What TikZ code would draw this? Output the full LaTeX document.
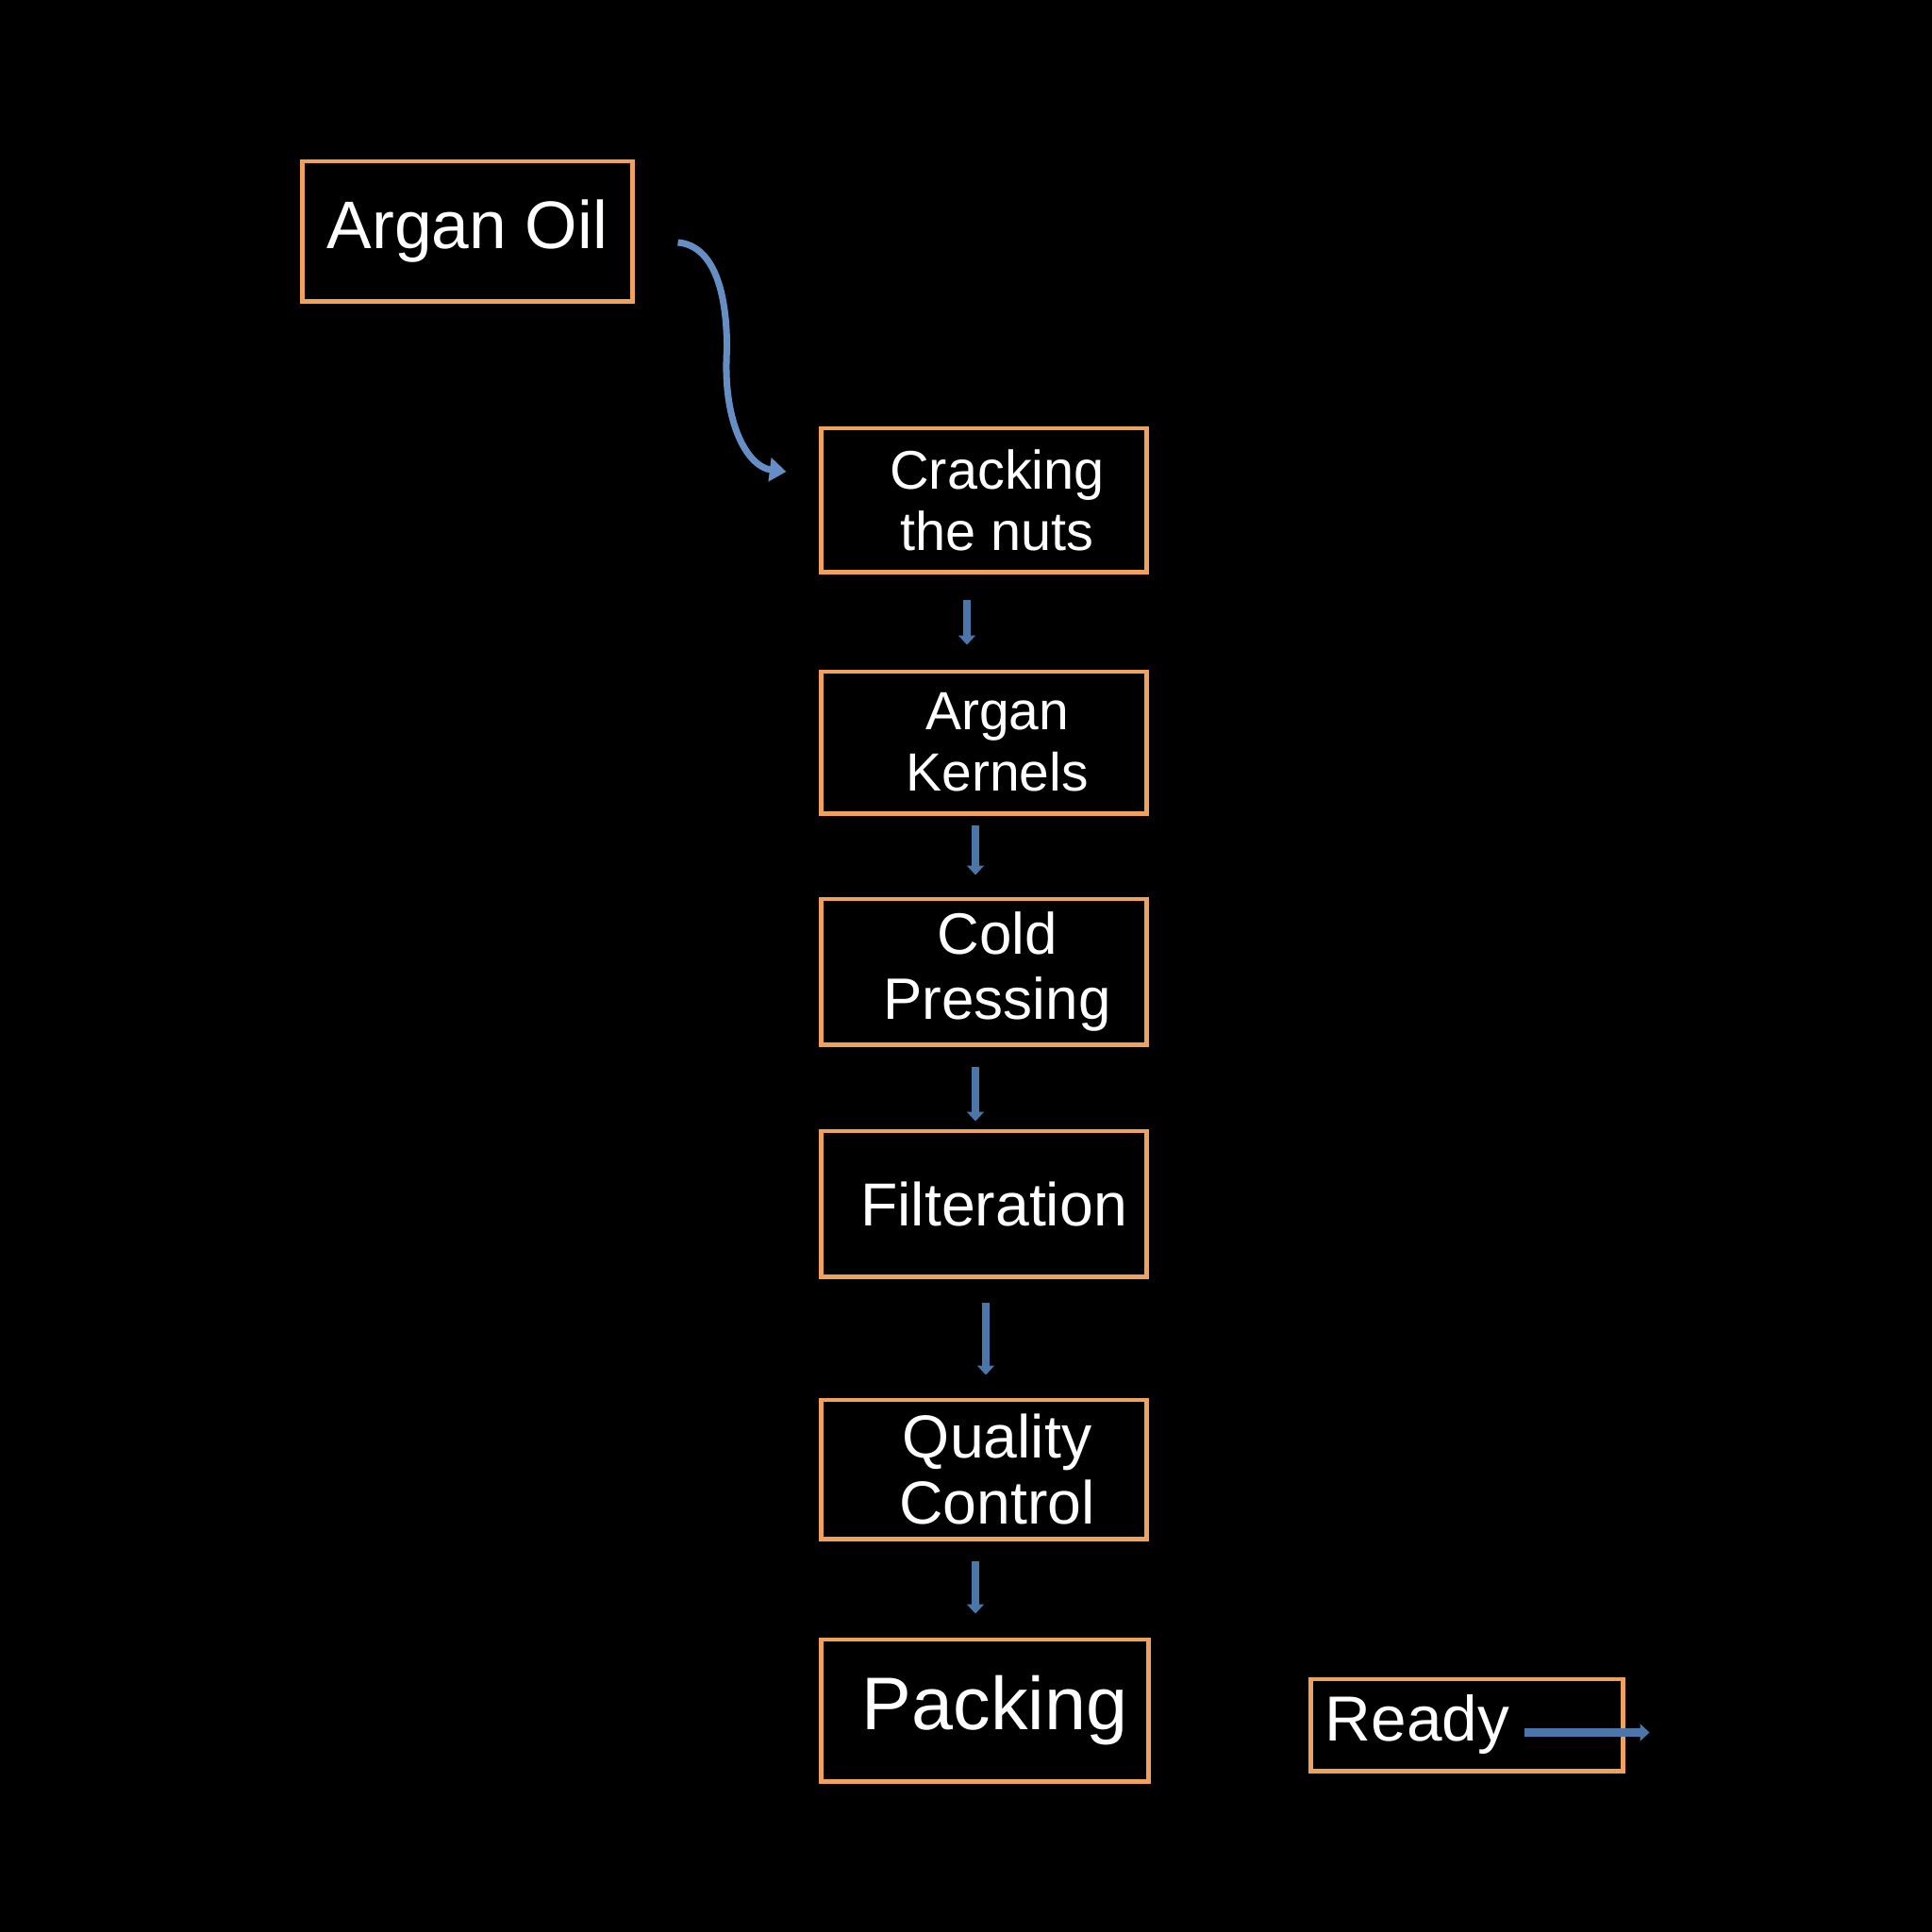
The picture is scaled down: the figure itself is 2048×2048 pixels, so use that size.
\documentclass[tikz,border=0pt]{standalone}
\usepackage{fontspec}
\setmainfont{Liberation Sans}
\usetikzlibrary{arrows.meta,calc}
\definecolor{boxorange}{RGB}{240,162,92}
\definecolor{arrblue}{RGB}{74,118,170}
\definecolor{curveblue}{RGB}{100,142,196}
\tikzset{
  stepbox/.style={draw=boxorange, line width=1.4pt, fill=black, text=white,
    align=center, inner sep=2pt, minimum width=3.44cm},
  flowarrow/.style={draw=arrblue, line width=2.4pt,
    -{Triangle[width=5pt,length=2.8pt]}},
}
\begin{document}
\begin{tikzpicture}[x=0.01cm,y=-0.01cm]
\fill[black] (0,0) rectangle (2048,2048);
\useasboundingbox (0,0) rectangle (2048,2048);

\node[stepbox, minimum width=3.49cm, minimum height=1.48cm, font=\fontsize{20.3}{24}\selectfont] (argan) at (495.5,245) {Argan Oil};
\node[stepbox, minimum height=1.52cm, font=\fontsize{16.4}{18.5}\selectfont] (crack) at (1043,530) {\hspace*{8pt}Cracking\\\hspace*{8pt}the nuts};
\node[stepbox, minimum height=1.50cm, font=\fontsize{16.2}{18.5}\selectfont] (kern) at (1043,787) {\hspace*{8pt}Argan\\\hspace*{8pt}Kernels};
\node[stepbox, minimum height=1.54cm, font=\fontsize{17.6}{19.6}\selectfont] (cold) at (1043,1030) {\hspace*{8pt}Cold\\\hspace*{8pt}Pressing};
\node[stepbox, minimum height=1.54cm, font=\fontsize{18.3}{21}\selectfont] (filt) at (1043,1276) {\hspace*{6pt}Filteration};
\node[stepbox, minimum height=1.47cm, font=\fontsize{18.3}{20}\selectfont] (qc) at (1043,1557.5) {\hspace*{8pt}Quality\\\hspace*{8pt}Control};
\node[stepbox, minimum width=3.46cm, minimum height=1.50cm, font=\fontsize{22.5}{26}\selectfont] (pack) at (1044,1813) {\hspace*{6pt}Packing};
\node[stepbox, minimum width=3.30cm, minimum height=0.97cm, text width=3.0cm, align=left, font=\fontsize{19.2}{22}\selectfont] (ready) at (1555,1828.5) {Ready};

% curved arrow from Argan Oil to Cracking
\draw[draw=curveblue, line width=2pt, -{Triangle[width=7pt,length=5pt]}]
  ($(argan.east)+(46,12)$) .. controls ($(argan.east)+(80,15)$) and ($(argan.east)+(98,55)$) .. ($(argan.east)+(98,125)$)
  .. controls ($(crack.west)+(-103,-80)$) and ($(crack.west)+(-75,-35)$) .. ($(crack.west)+(-35,-30)$);

% straight arrows
\draw[flowarrow] ($(crack.south)+(-18,27)$) -- ($(kern.north)+(-18,-26)$);
\draw[flowarrow] ($(kern.south)+(-9,10)$) -- ($(cold.north)+(-9,-23)$);
\draw[flowarrow] ($(cold.south)+(-9,21)$) -- ($(filt.north)+(-9,-8)$);
\draw[flowarrow] ($(filt.south)+(2,25)$) -- ($(qc.north)+(2,-24)$);
\draw[flowarrow] ($(qc.south)+(-9,21)$) -- ($(pack.north)+(-10,-25)$);

% Ready arrow
\coordinate (readyend) at ($(ready.east)+(26,8)$);
\draw[flowarrow] ($(ready.east)+(-107,8)$) -- (readyend);
\end{tikzpicture}
\end{document}
